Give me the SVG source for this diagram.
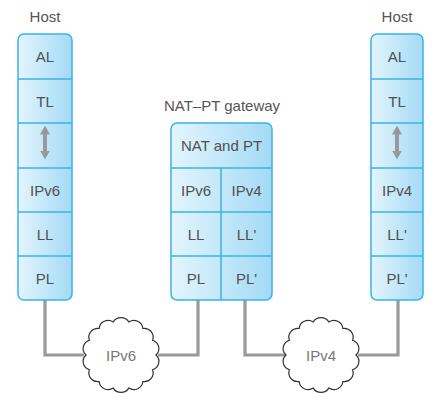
<svg xmlns="http://www.w3.org/2000/svg" width="435" height="402" viewBox="0 0 435 402">
<defs>
<linearGradient id="blueGrad" x1="0" y1="0" x2="1" y2="0">
<stop offset="0" stop-color="#e3f5fd"/>
<stop offset="1" stop-color="#a4daf5"/>
</linearGradient>
<path id="cloudShape" d="M35,0 A9,9 0 0 1 31.53,15.19 A9,9 0 0 1 21.82,27.36 A9,9 0 0 1 7.79,34.12 A9,9 0 0 1 -7.79,34.12 A9,9 0 0 1 -21.82,27.36 A9,9 0 0 1 -31.53,15.19 A9,9 0 0 1 -35,0 A9,9 0 0 1 -31.53,-15.19 A9,9 0 0 1 -21.82,-27.36 A9,9 0 0 1 -7.79,-34.12 A9,9 0 0 1 7.79,-34.12 A9,9 0 0 1 21.82,-27.36 A9,9 0 0 1 31.53,-15.19 A9,9 0 0 1 35,0 Z"/>
<marker id="arrowHead" viewBox="0 0 9 10" refX="0.5" refY="5" markerWidth="9" markerHeight="10" markerUnits="userSpaceOnUse" orient="auto-start-reverse">
<path d="M0,0 L9,5 L0,10 Z" fill="#999999"/>
</marker>
</defs>
<style>
.box{fill:url(#blueGrad);stroke:#3ab3e8;stroke-width:1.5}
.div{stroke:#3ab3e8;stroke-width:1.5;fill:none}
.lbl{font-family:"Liberation Sans",Arial,sans-serif;font-size:15px;fill:#505050;text-anchor:middle}
.title{font-family:"Liberation Sans",Arial,sans-serif;font-size:15px;fill:#555555;text-anchor:middle}
.cloud{fill:#ffffff;stroke:#333333;stroke-width:1.2}
.cloudtxt{font-family:"Liberation Sans",Arial,sans-serif;font-size:15px;fill:#777777;text-anchor:middle}
.wire{fill:none;stroke:#999999;stroke-width:3.2}
.updown{stroke:#999999;stroke-width:4;marker-start:url(#arrowHead);marker-end:url(#arrowHead)}
</style>
<rect width="435" height="402" fill="#ffffff"/>

<g id="connectors">
<polyline class="wire" points="45,300 45,355 84,355"/>
<polyline class="wire" points="158,355 198,355 198,300"/>
<polyline class="wire" points="245,300 245,355 285,355"/>
<polyline class="wire" points="358,355 398,355 398,300"/>
</g>

<g id="host-left">
<text class="title" x="45" y="21.5">Host</text>
<rect class="box" x="18" y="34" width="54" height="266" rx="6"/>
<line class="div" x1="18" y1="79" x2="72" y2="79"/>
<line class="div" x1="18" y1="123" x2="72" y2="123"/>
<line class="div" x1="18" y1="168" x2="72" y2="168"/>
<line class="div" x1="18" y1="212" x2="72" y2="212"/>
<line class="div" x1="18" y1="256" x2="72" y2="256"/>
<text class="lbl" x="45" y="62">AL</text>
<text class="lbl" x="45" y="106.5">TL</text>
<line class="updown" x1="45" y1="134" x2="45" y2="151"/>
<text class="lbl" x="45" y="195.5">IPv6</text>
<text class="lbl" x="45" y="239.5">LL</text>
<text class="lbl" x="45" y="283.5">PL</text>
</g>

<g id="gateway">
<text class="title" x="222" y="111">NAT–PT gateway</text>
<rect class="box" x="171" y="123" width="101" height="177" rx="6"/>
<line class="div" x1="171" y1="168" x2="272" y2="168"/>
<line class="div" x1="171" y1="212" x2="272" y2="212"/>
<line class="div" x1="171" y1="256" x2="272" y2="256"/>
<line class="div" x1="221" y1="168" x2="221" y2="300"/>
<text class="lbl" x="221.5" y="151">NAT and PT</text>
<text class="lbl" x="196" y="195.5">IPv6</text>
<text class="lbl" x="246.5" y="195.5">IPv4</text>
<text class="lbl" x="196" y="239.5">LL</text>
<text class="lbl" x="246.5" y="239.5">LL'</text>
<text class="lbl" x="196" y="283.5">PL</text>
<text class="lbl" x="246.5" y="283.5">PL'</text>
</g>

<g id="host-right">
<text class="title" x="397" y="21.5">Host</text>
<rect class="box" x="371" y="34" width="52" height="266" rx="6"/>
<line class="div" x1="371" y1="79" x2="423" y2="79"/>
<line class="div" x1="371" y1="123" x2="423" y2="123"/>
<line class="div" x1="371" y1="168" x2="423" y2="168"/>
<line class="div" x1="371" y1="212" x2="423" y2="212"/>
<line class="div" x1="371" y1="256" x2="423" y2="256"/>
<text class="lbl" x="397" y="62">AL</text>
<text class="lbl" x="397" y="106.5">TL</text>
<line class="updown" x1="397" y1="134" x2="397" y2="151"/>
<text class="lbl" x="397" y="195.5">IPv4</text>
<text class="lbl" x="397" y="239.5">LL'</text>
<text class="lbl" x="397" y="283.5">PL'</text>
</g>

<g id="cloud-ipv6">
<use href="#cloudShape" class="cloud" transform="translate(121,355) scale(1.0,0.97)"/>
<text class="cloudtxt" x="121" y="361">IPv6</text>
</g>

<g id="cloud-ipv4">
<use href="#cloudShape" class="cloud" transform="translate(321,355) scale(1.0,0.97)"/>
<text class="cloudtxt" x="321" y="361">IPv4</text>
</g>
</svg>
